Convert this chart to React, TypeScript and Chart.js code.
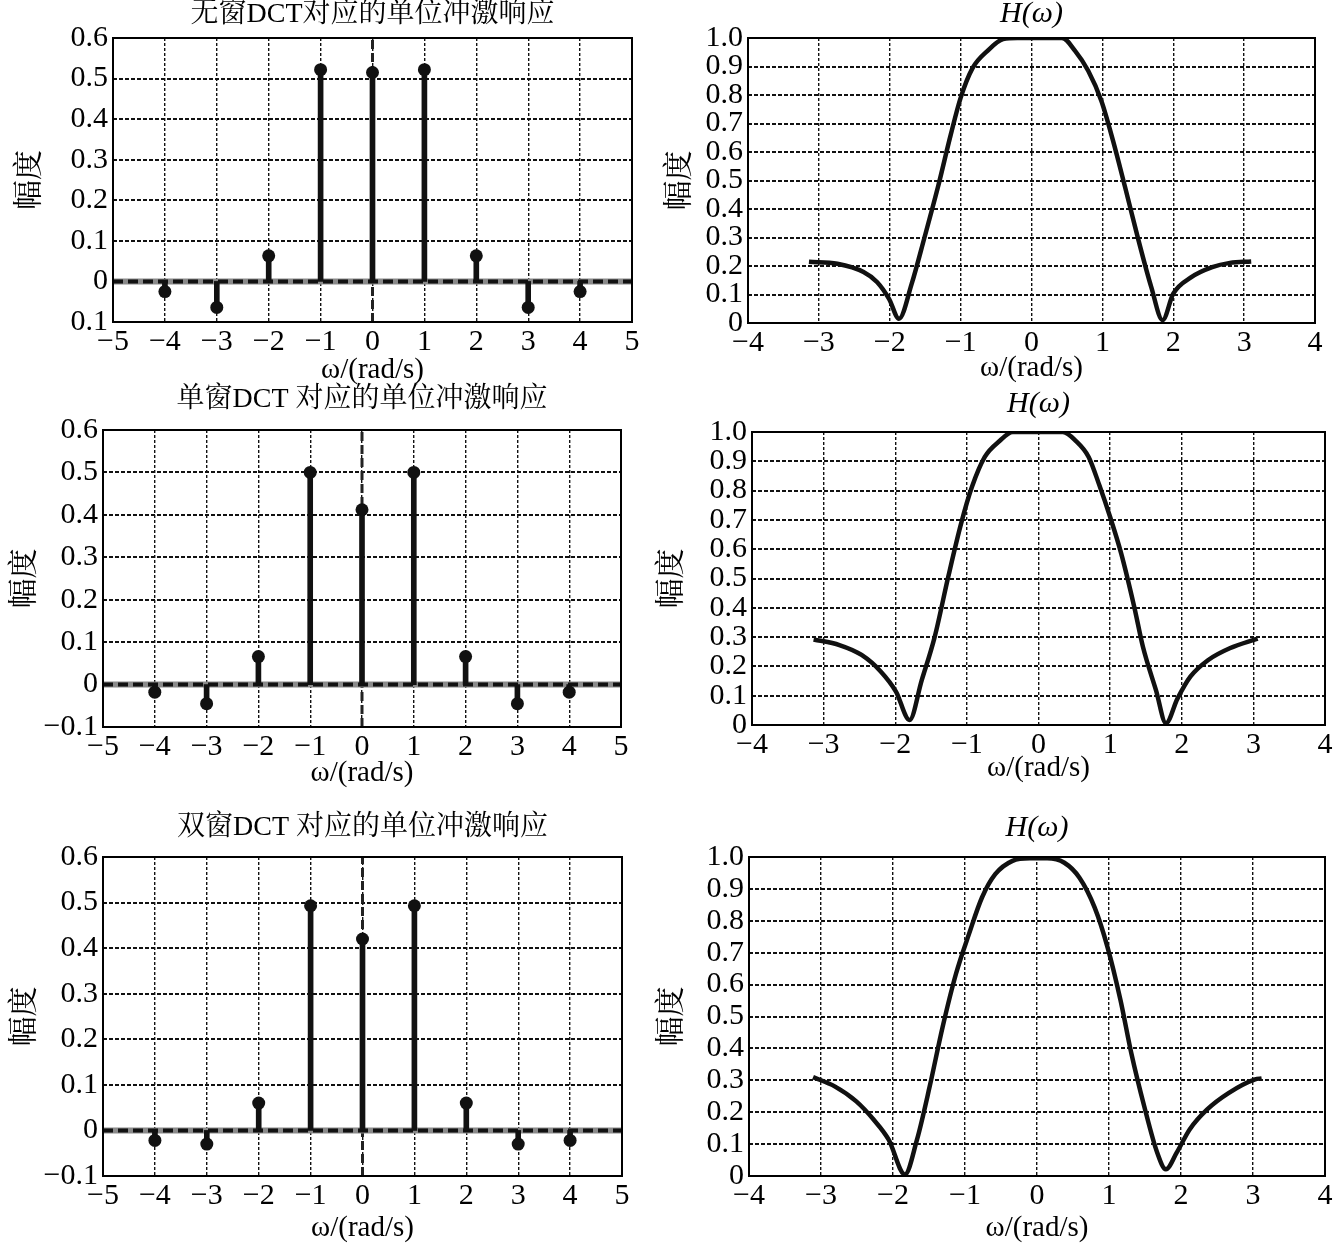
import React, { useEffect, useRef } from 'react';
import { Chart, registerables } from 'chart.js';

Chart.register(...registerables);

// ---------- data ----------
const stemOmega = [-4, -3, -2, -1, 0, 1, 2, 3, 4];
const noWindowValues = [-0.025, -0.064, 0.063, 0.522, 0.515, 0.522, 0.063, -0.064, -0.025];
const singleWindowValues = [-0.018, -0.045, 0.066, 0.5, 0.412, 0.5, 0.066, -0.045, -0.018];
const doubleWindowValues = [-0.022, -0.03, 0.06, 0.493, 0.42, 0.493, 0.06, -0.03, -0.022];

const h1Omega = [-3.14, -2.74, -2.37, -2.18, -2.01, -1.87, -1.69, -1.51, -1.32, -1.14, -1.0, -0.83, -0.62, -0.4, -0.2, 0, 0.2, 0.43, 0.615, 0.8, 0.985, 1.15, 1.32, 1.51, 1.69, 1.85, 2.0, 2.25, 2.55, 2.8, 3.1];
const h1Values = [0.215, 0.208, 0.179, 0.144, 0.085, 0.015, 0.138, 0.3, 0.477, 0.66, 0.79, 0.895, 0.955, 0.996, 1.0, 1.0, 1.0, 1.0, 0.955, 0.885, 0.78, 0.64, 0.477, 0.29, 0.126, 0.01, 0.103, 0.16, 0.196, 0.211, 0.216];

const h2Omega = [-3.14, -2.78, -2.47, -2.2, -1.99, -1.8, -1.63, -1.45, -1.26, -1.08, -0.93, -0.75, -0.54, -0.36, 0, 0.34, 0.52, 0.7, 0.85, 1.0, 1.155, 1.337, 1.458, 1.64, 1.78, 1.94, 2.12, 2.37, 2.67, 3.06];
const h2Values = [0.292, 0.273, 0.239, 0.182, 0.114, 0.017, 0.153, 0.3, 0.506, 0.688, 0.812, 0.915, 0.97, 1.0, 1.0, 1.0, 0.97, 0.915, 0.818, 0.71, 0.585, 0.403, 0.267, 0.119, 0.006, 0.09, 0.165, 0.222, 0.262, 0.295];

const h3Omega = [-3.11, -2.81, -2.51, -2.27, -2.06, -1.835, -1.667, -1.49, -1.31, -1.125, -0.944, -0.764, -0.58, -0.34, -0.1, 0.14, 0.38, 0.59, 0.8, 0.98, 1.16, 1.31, 1.49, 1.67, 1.79, 1.94, 2.12, 2.36, 2.66, 3.03, 3.12];
const h3Values = [0.31, 0.281, 0.234, 0.177, 0.114, 0.005, 0.114, 0.281, 0.468, 0.634, 0.759, 0.873, 0.946, 0.988, 0.996, 0.996, 0.982, 0.935, 0.842, 0.717, 0.551, 0.385, 0.218, 0.073, 0.021, 0.073, 0.146, 0.208, 0.26, 0.303, 0.306];

const stemTitles = ['无窗DCT对应的单位冲激响应', '单窗DCT 对应的单位冲激响应', '双窗DCT 对应的单位冲激响应'];
const freqTitle = 'H(ω)';
const xAxisTitle = 'ω/(rad/s)';
const yAxisTitle = '幅度';

// ---------- layout ----------
const TICK_FS = 30;
const TITLE_FS = 28;
const FREQ_TITLE_FS = 30;
const XT_FS = 29;
const YT_FS = 30;
const FAMILY = "'Liberation Serif', 'Times New Roman', 'Noto Serif CJK SC', 'Noto Sans CJK SC', serif";
const RIGHT_PAD = 14;

type Box = { L: number; T: number; R: number; B: number; titleY: number; ylabelX: number; xlabelY: number };

const boxes: Box[] = [
  { L: 113, T: 38, R: 632, B: 322, titleY: 15, ylabelX: 30, xlabelY: 370 },
  { L: 748, T: 38, R: 1315, B: 323, titleY: 14, ylabelX: 680, xlabelY: 368 },
  { L: 103, T: 430, R: 621, B: 727, titleY: 400, ylabelX: 25, xlabelY: 773 },
  { L: 752, T: 432, R: 1325, B: 725, titleY: 404, ylabelX: 672, xlabelY: 768 },
  { L: 103, T: 857, R: 622, B: 1176, titleY: 828, ylabelX: 25, xlabelY: 1228 },
  { L: 749, T: 857, R: 1325, B: 1176, titleY: 828, ylabelX: 672, xlabelY: 1228 },
];

function geom(b: Box, titleFs: number) {
  const tLH = titleFs * 1.2;
  const left = b.ylabelX - 25;
  const top = b.titleY - 20;
  const bottom = b.xlabelY + 20;
  const right = b.R + RIGHT_PAD;
  return {
    left,
    top,
    width: right - left,
    height: bottom - top,
    yW: b.L - left,
    xH: bottom - b.B,
    titlePadTop: 20 - tLH / 2,
    titlePadBottom: b.T - top - tLH - (20 - tLH / 2),
  };
}

const framePlugin = {
  id: 'frame',
  afterDatasetsDraw(chart: any) {
    const { ctx, chartArea } = chart;
    ctx.save();
    ctx.strokeStyle = '#000';
    ctx.lineWidth = 2;
    ctx.strokeRect(chartArea.left, chartArea.top, chartArea.right - chartArea.left, chartArea.bottom - chartArea.top);
    ctx.restore();
  },
};

const fmtX = (v: number) => (v < 0 ? '\u2212' + Math.abs(v) : String(v));

function scalesFor(g: ReturnType<typeof geom>, xMin: number, xMax: number, yMin: number, yMax: number, yFmt: (v: number) => string) {
  return {
    x: {
      type: 'linear',
      min: xMin,
      max: xMax,
      offset: false,
      grid: { color: '#111', lineWidth: 1.4, drawTicks: false, offset: false },
      border: { display: false, dash: [3, 2] },
      ticks: { stepSize: 1, autoSkip: false, maxRotation: 0, padding: 2, color: '#000', font: { size: TICK_FS, family: FAMILY }, callback: (v: any) => fmtX(Number(v)) },
      title: { display: true, text: xAxisTitle, color: '#000', padding: { top: 0, bottom: 20 - (XT_FS * 1.2) / 2 }, font: { size: XT_FS, family: FAMILY } },
      afterFit: (s: any) => { s.height = g.xH; },
    },
    y: {
      type: 'linear',
      min: yMin,
      max: yMax,
      grid: { color: '#111', lineWidth: 2, drawTicks: false },
      border: { display: false, dash: [4, 2] },
      ticks: { stepSize: 0.1, autoSkip: false, padding: 5, color: '#000', font: { size: TICK_FS, family: FAMILY }, callback: (v: any) => yFmt(Number(v)) },
      title: { display: true, text: yAxisTitle, color: '#000', padding: { top: 25 - (YT_FS * 1.2) / 2, bottom: 0 }, font: { size: YT_FS, family: FAMILY } },
      afterFit: (s: any) => { s.width = g.yW; },
    },
  };
}

function stemConfig(idx: number, values: number[], title: string, dropMinus: boolean) {
  const g = geom(boxes[idx], TITLE_FS);
  const yFmt = (v: number) => {
    const r = Math.round(v * 10) / 10;
    if (r === 0) return '0';
    if (r < 0) return dropMinus ? Math.abs(r).toFixed(1) : '\u2212' + Math.abs(r).toFixed(1);
    return r.toFixed(1);
  };
  const pts = stemOmega.map((x, i) => ({ x, y: values[i] }));
  return {
    g,
    config: {
      type: 'bar',
      data: {
        datasets: [
          { type: 'line', data: pts, showLine: false, pointRadius: 6.5, pointBackgroundColor: '#111', pointBorderColor: '#111', pointBorderWidth: 0 },
          { type: 'bar', data: pts, backgroundColor: '#111', barThickness: 5, borderWidth: 0 },
          { type: 'line', data: [{ x: -5, y: 0 }, { x: 5, y: 0 }], borderColor: '#111', borderWidth: 4, borderDash: [10, 5], pointRadius: 0 },
          { type: 'line', data: [{ x: -5, y: 0 }, { x: 5, y: 0 }], borderColor: '#8a8a8a', borderWidth: 6, pointRadius: 0 },
          { type: 'line', data: [{ x: 0, y: -0.1 }, { x: 0, y: 0.6 }], borderColor: '#222', borderWidth: 3, borderDash: [9, 4], pointRadius: 0 },
        ],
      },
      options: {
        animation: false,
        responsive: false,
        devicePixelRatio: 1,
        layout: { padding: { left: 0, top: 0, bottom: 0, right: RIGHT_PAD } },
        plugins: {
          legend: { display: false },
          tooltip: { enabled: false },
          title: { display: true, text: title, fullSize: false, color: '#000', padding: { top: g.titlePadTop, bottom: g.titlePadBottom }, font: { size: TITLE_FS, family: FAMILY, weight: 'normal' } },
        },
        scales: scalesFor(g, -5, 5, -0.1, 0.6, yFmt),
      },
      plugins: [framePlugin],
    },
  };
}

function freqConfig(idx: number, omega: number[], values: number[]) {
  const g = geom(boxes[idx], FREQ_TITLE_FS);
  const yFmt = (v: number) => {
    const r = Math.round(v * 10) / 10;
    return r === 0 ? '0' : r.toFixed(1);
  };
  return {
    g,
    config: {
      type: 'line',
      data: {
        datasets: [
          { data: omega.map((x, i) => ({ x, y: values[i] })), borderColor: '#111', borderWidth: 4.5, pointRadius: 0, cubicInterpolationMode: 'monotone', fill: false },
        ],
      },
      options: {
        animation: false,
        responsive: false,
        devicePixelRatio: 1,
        layout: { padding: { left: 0, top: 0, bottom: 0, right: RIGHT_PAD } },
        plugins: {
          legend: { display: false },
          tooltip: { enabled: false },
          title: { display: true, text: freqTitle, fullSize: false, color: '#000', padding: { top: g.titlePadTop, bottom: g.titlePadBottom }, font: { size: FREQ_TITLE_FS, family: FAMILY, style: 'italic', weight: 'normal' } },
        },
        scales: scalesFor(g, -4, 4, 0, 1, yFmt),
      },
      plugins: [framePlugin],
    },
  };
}

function Panel({ spec }: { spec: { g: ReturnType<typeof geom>; config: any } }) {
  const ref = useRef<HTMLCanvasElement>(null);
  useEffect(() => {
    const chart = new Chart(ref.current as HTMLCanvasElement, spec.config);
    return () => chart.destroy();
  }, []);
  const { g } = spec;
  return (
    <canvas
      ref={ref}
      width={g.width}
      height={g.height}
      style={{ position: 'absolute', left: g.left, top: g.top, width: g.width, height: g.height }}
    />
  );
}

export default function App() {
  useEffect(() => {
    document.body.style.margin = '0';
  }, []);
  const specs = [
    stemConfig(0, noWindowValues, stemTitles[0], true),
    freqConfig(1, h1Omega, h1Values),
    stemConfig(2, singleWindowValues, stemTitles[1], false),
    freqConfig(3, h2Omega, h2Values),
    stemConfig(4, doubleWindowValues, stemTitles[2], false),
    freqConfig(5, h3Omega, h3Values),
  ];
  return (
    <div style={{ position: 'relative', width: 1334, height: 1247, overflow: 'hidden', background: '#fff' }}>
      {specs.map((s, i) => (
        <Panel key={i} spec={s} />
      ))}
    </div>
  );
}
